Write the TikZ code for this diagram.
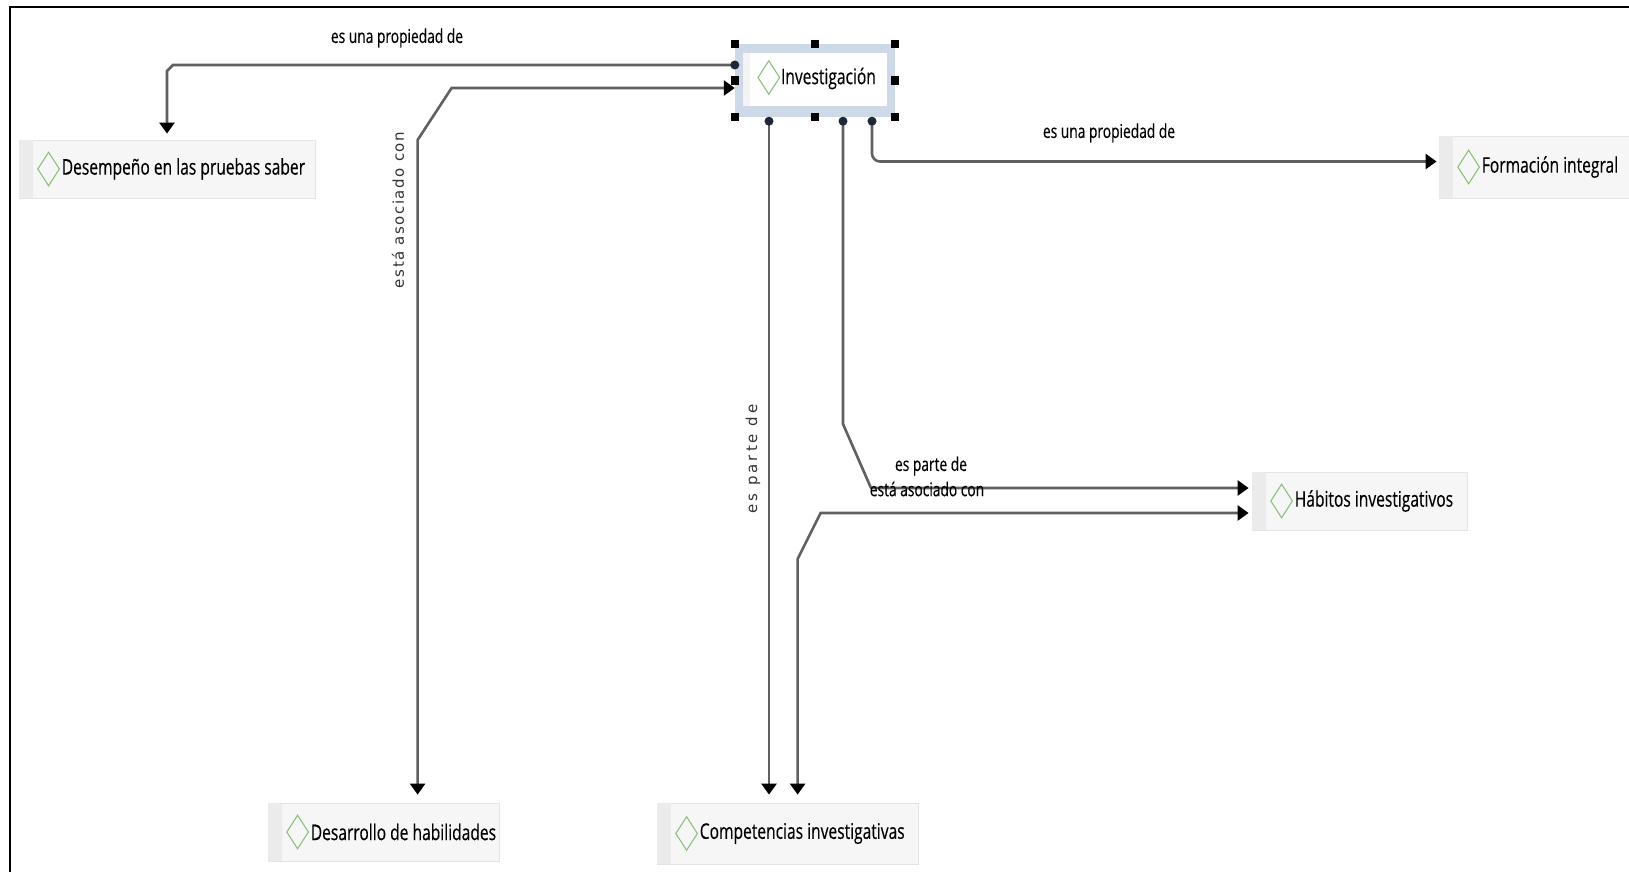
\documentclass[tikz,border=0pt]{standalone}
\usepackage{fontspec}
\setmainfont{Open Sans}
\newfontfamily\cfont[FakeStretch=0.725,FakeBold=0.3]{Open Sans}
\newfontfamily\rfont[LetterSpace=10]{DejaVu Sans}
\newfontfamily\rwidefont[LetterSpace=20]{DejaVu Sans}
\usetikzlibrary{arrows.meta,calc,shapes.geometric}

\definecolor{boxfill}{HTML}{F6F6F6}
\definecolor{boxstrip}{HTML}{EBEBEB}
\definecolor{boxedge}{HTML}{E4E4E4}
\definecolor{diagreen}{HTML}{8EC07A}
\definecolor{linkgray}{HTML}{606060}
\definecolor{selband}{HTML}{CDD9E7}
\definecolor{knob}{HTML}{1E2737}

\tikzset{
  concept/.style={rectangle, fill=boxfill, draw=boxedge, line width=0.8pt, inner sep=0pt},
  dia/.style={diamond, draw=diagreen, line width=1.1pt, inner sep=0pt, minimum width=22pt, minimum height=34pt},
  ctext/.style={font=\cfont\fontsize{21.5}{25}\selectfont, text=black, inner sep=0pt, anchor=west},
  link/.style={draw=linkgray, line width=2.6pt},
  tip/.style={-{Triangle[length=11pt,width=15pt,color=black]}},
  tipboth/.style={{Triangle[length=11pt,width=15pt,color=black]}-{Triangle[length=11pt,width=15pt,color=black]}},
  ltext/.style={font=\cfont\fontsize{19}{22}\selectfont, inner sep=0pt, text=black},
  rtext/.style={font=\rfont\fontsize{15}{18}\selectfont, inner sep=0pt, rotate=90, text=black!80},
  knobdot/.style={circle, fill=knob, inner sep=0pt, minimum size=9pt},
  handle/.style={rectangle, fill=black, inner sep=0pt, minimum size=8.5pt},
}

% concept box: name, centre, width, height, label
\newcommand\conceptbox[5]{%
  \node[concept, minimum width=#3pt, minimum height=#4pt] (#1) at #2 {};
  \fill[boxstrip] (#1.north west) rectangle ($(#1.south west)+(14,0)$);
  \node[dia] (#1-d) at ($(#1.west)+(30,0)$) {};
  \node[ctext] (#1-t) at ($(#1.west)+(43,0)$) {#5};
}

\begin{document}
\begin{tikzpicture}[x=1pt,y=-1pt]
\useasboundingbox (0,0) rectangle (1629,872);
\fill[white] (0,0) rectangle (1629,872);
\draw[line width=2.5pt] (10,872) -- (10,7) -- (1629,7);

% concepts
\conceptbox{des}{(167,169)}{296}{58}{Desempeño en las pruebas saber}
\conceptbox{frm}{(1539,167)}{200}{62}{Formación integral}
\conceptbox{hab}{(1359.5,501)}{215}{58}{Hábitos investigativos}
\conceptbox{dev}{(383.5,832)}{231}{58}{Desarrollo de habilidades}
\conceptbox{cmp}{(787.5,833.5)}{261}{61}{Competencias investigativas}

% selected concept
\node[rectangle, fill=selband, minimum width=160pt, minimum height=73pt, inner sep=0pt] (inv) at (815,80.5) {};
\fill[white] ($(inv.north west)+(8,9)$) rectangle ($(inv.south east)+(-8,-11)$);
\fill[boxstrip!60] ($(inv.north west)+(8,9)$) rectangle ($(inv.south west)+(15,-11)$);
\node[dia] (inv-d) at ($(inv.west)+(34,-3)$) {};
\node[ctext] (inv-t) at ($(inv.west)+(46,-2)$) {Investigación};

% connection points
\coordinate (inv-l1) at ($(inv.west)+(0,-15.5)$);
\coordinate (inv-l2) at ($(inv.west)+(0,7.5)$);
\coordinate (inv-b1) at ($(inv.south)+(-46,4)$);
\coordinate (inv-b2) at ($(inv.south)+(28,4)$);
\coordinate (inv-b3) at ($(inv.south)+(57,4)$);
\coordinate (des-in) at ($(des.north)+(0,-6)$);
\coordinate (dev-in) at ($(dev.north west)+(150,-8)$);
\coordinate (cmp-in1) at ($(cmp.north west)+(113,-8)$);
\coordinate (cmp-in2) at ($(cmp.north west)+(141,-8)$);
\coordinate (hab-in1) at ($(hab.west)+(-3,-13)$);
\coordinate (hab-in2) at ($(hab.west)+(-3,12)$);
\coordinate (frm-in) at ($(frm.west)+(-2,-5.5)$);

% links
\draw[link, tip] (inv-l1) -- ($(des-in |- inv-l1)+(6,0)$) -- ($(des-in |- inv-l1)+(0,6)$) -- (des-in);
\draw[link, tipboth] (dev-in) -- ($(dev-in |- inv-l2)+(0,52)$) -- ($(dev-in |- inv-l2)+(34,0)$) -- (inv-l2);
\draw[link, tip] (inv-b1) -- (inv-b1 |- cmp-in1);
\draw[link, tip] (inv-b2) -- ($(inv-b2 |- hab-in1)+(0,-64)$) -- ($(inv-b2 |- hab-in1)+(28,0)$) -- (hab-in1);
\draw[link, tipboth] (cmp-in2) -- ($(cmp-in2 |- hab-in2)+(0,46)$) -- ($(cmp-in2 |- hab-in2)+(23,0)$) -- (hab-in2);
\draw[link, tip, rounded corners=8pt] (inv-b3) |- (frm-in);

% link labels
\node[ltext] (lab1) at (397,38) {es una propiedad de};
\node[rtext] (lab2) at (398,210) {está asociado con};
\node[rtext, font=\rwidefont\fontsize{15}{18}\selectfont] (lab3) at (753,459) {es parte de};
\node[ltext] (lab4) at (931,466) {es parte de};
\node[ltext] (lab5) at (927,489) {está asociado con};
\node[ltext] (lab6) at (1109,133) {es una propiedad de};

% selection handles and link knobs
\foreach \a in {north west,north,north east,west,east,south west,south,south east}
  \node[handle] at (inv.\a) {};
\foreach \p in {inv-l1,inv-b1,inv-b2,inv-b3}
  \node[knobdot] at (\p) {};
\end{tikzpicture}
\end{document}
